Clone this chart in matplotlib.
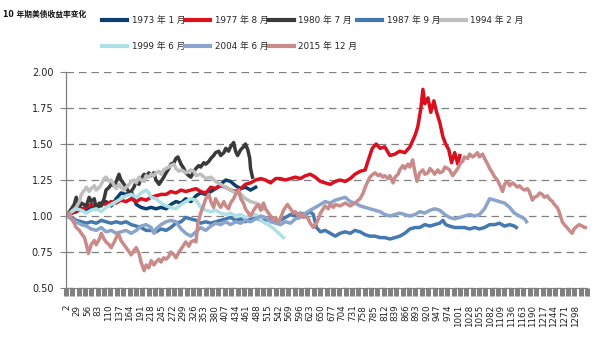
import numpy as np
import matplotlib
matplotlib.use("Agg")
import matplotlib.pyplot as plt

plt.rcParams['font.family'] = ['DejaVu Sans', 'Noto Sans CJK SC']

# ---------------- data (day index, ratio vs. start) ----------------
labels = ["1973 年 1 月", "1977 年 8 月", "1980 年 7 月", "1987 年 9 月",
          "1994 年 2 月", "1999 年 6 月", "2004 年 6 月", "2015 年 12 月"]
colors = ["#0b3f6e", "#d9101e", "#3a3a3a", "#4479b0",
          "#bfbfbf", "#ade0e4", "#8aa4cb", "#c98b8a"]

x1973 = [2, 15, 27, 40, 53, 65, 78, 91, 103, 116, 129, 141, 154, 167, 180, 192, 205, 218, 230, 243, 256,
         268, 281, 294, 306, 319, 332, 344, 357, 370, 382, 395, 408, 420, 433, 446, 458, 471, 484]
y1973 = [1.00, 1.02, 1.03, 1.05, 1.04, 1.06, 1.05, 1.08, 1.10, 1.07, 1.12, 1.16, 1.15, 1.17, 1.08, 1.06,
         1.05, 1.06, 1.05, 1.06, 1.05, 1.08, 1.10, 1.09, 1.12, 1.10, 1.14, 1.16, 1.15, 1.17, 1.19, 1.22,
         1.25, 1.24, 1.21, 1.19, 1.20, 1.18, 1.20]

x1977 = [2, 15, 27, 40, 53, 65, 78, 91, 103, 116, 129, 141, 154, 167, 180, 192, 205, 218, 230, 243, 256,
         268, 281, 294, 306, 319, 332, 344, 357, 370, 382, 395, 408, 420, 433, 446, 458, 471, 484, 497,
         509, 522, 535, 547, 560, 573, 585, 598, 611, 623, 636, 649, 661, 674, 687, 699, 712, 725, 737,
         750, 763, 770, 781, 791, 801, 813, 826, 839, 851, 864, 877, 890, 897, 905, 910, 915, 923, 930,
         938, 945, 953, 961, 968, 976, 983, 991, 999, 1004]
y1977 = [1.00, 1.02, 1.03, 1.05, 1.06, 1.08, 1.07, 1.09, 1.08, 1.10, 1.09, 1.11, 1.10, 1.12, 1.10, 1.12,
         1.11, 1.13, 1.14, 1.15, 1.15, 1.17, 1.16, 1.18, 1.17, 1.18, 1.19, 1.17, 1.16, 1.20, 1.19, 1.21,
         1.20, 1.18, 1.17, 1.19, 1.22, 1.23, 1.25, 1.26, 1.25, 1.23, 1.26, 1.26, 1.25, 1.26, 1.27, 1.26,
         1.28, 1.29, 1.27, 1.24, 1.23, 1.22, 1.24, 1.25, 1.24, 1.26, 1.29, 1.31, 1.32, 1.38, 1.47, 1.50,
         1.47, 1.48, 1.42, 1.43, 1.45, 1.44, 1.48, 1.56, 1.62, 1.75, 1.88, 1.78, 1.82, 1.72, 1.80, 1.72,
         1.65, 1.55, 1.50, 1.46, 1.37, 1.44, 1.36, 1.42]

x1980 = [2, 15, 22, 27, 35, 40, 53, 60, 65, 73, 78, 86, 91, 98, 103, 111, 116, 124, 129, 136, 141, 149,
         154, 162, 167, 174, 180, 187, 192, 200, 205, 212, 218, 225, 230, 238, 243, 250, 256, 263, 268,
         276, 281, 286, 294, 301, 306, 314, 319, 327, 332, 339, 344, 352, 357, 365, 370, 377, 382, 390,
         395, 403, 408, 415, 420, 428, 433, 438, 446, 453, 458, 464, 469, 471, 476]
y1980 = [1.00, 1.05, 1.08, 1.13, 1.06, 1.09, 1.07, 1.13, 1.10, 1.12, 1.05, 1.09, 1.07, 1.12, 1.18, 1.20,
         1.22, 1.21, 1.24, 1.29, 1.25, 1.22, 1.20, 1.16, 1.17, 1.20, 1.24, 1.22, 1.26, 1.29, 1.27, 1.30,
         1.28, 1.30, 1.25, 1.22, 1.24, 1.27, 1.30, 1.33, 1.36, 1.37, 1.40, 1.41, 1.36, 1.33, 1.30, 1.28,
         1.27, 1.31, 1.33, 1.35, 1.34, 1.37, 1.36, 1.38, 1.40, 1.42, 1.44, 1.45, 1.42, 1.44, 1.47, 1.45,
         1.48, 1.51, 1.45, 1.42, 1.46, 1.48, 1.50, 1.46, 1.40, 1.33, 1.27]

x1987 = [2, 15, 27, 40, 53, 65, 78, 91, 103, 116, 129, 141, 154, 167, 180, 192, 205, 218, 230, 243, 256,
         268, 281, 294, 306, 319, 332, 344, 357, 370, 382, 395, 408, 420, 433, 446, 458, 471, 484, 497,
         509, 522, 535, 547, 560, 573, 585, 598, 611, 623, 631, 639, 649, 661, 674, 687, 699, 712, 725,
         737, 750, 763, 775, 788, 801, 813, 826, 839, 851, 864, 877, 890, 902, 915, 928, 940, 953, 961,
         968, 978, 991, 1004, 1016, 1029, 1042, 1054, 1067, 1080, 1093, 1105, 1118, 1131, 1143, 1148]
y1987 = [1.00, 0.99, 0.97, 0.96, 0.95, 0.96, 0.95, 0.97, 0.96, 0.95, 0.96, 0.95, 0.96, 0.94, 0.93, 0.92,
         0.90, 0.90, 0.89, 0.91, 0.90, 0.92, 0.95, 0.96, 0.99, 0.98, 0.97, 0.95, 0.96, 0.95, 0.96, 0.97,
         0.98, 0.99, 0.97, 0.98, 0.96, 0.98, 0.99, 0.97, 0.97, 0.98, 0.96, 0.97, 0.99, 1.01, 1.00, 1.02,
         1.01, 1.03, 1.01, 0.92, 0.89, 0.90, 0.88, 0.86, 0.88, 0.89, 0.88, 0.90, 0.89, 0.87, 0.86, 0.86,
         0.85, 0.85, 0.84, 0.85, 0.86, 0.88, 0.91, 0.92, 0.92, 0.94, 0.93, 0.94, 0.95, 0.97, 0.94, 0.93,
         0.92, 0.92, 0.92, 0.91, 0.92, 0.91, 0.92, 0.94, 0.94, 0.95, 0.93, 0.94, 0.93, 0.92]

x1994 = [2, 15, 27, 35, 40, 48, 53, 60, 65, 73, 78, 86, 91, 98, 103, 111, 116, 124, 129, 136, 141, 149,
         154, 162, 167, 174, 180, 187, 192, 200, 205, 212, 218, 225, 230, 238, 243, 250, 256, 263, 268,
         276, 281, 289, 294, 301, 306, 314, 319, 327, 332, 344, 357, 370, 382, 395, 408, 420, 433, 446,
         458, 471, 484, 497, 504]
y1994 = [1.00, 1.03, 1.06, 1.10, 1.15, 1.18, 1.20, 1.17, 1.19, 1.21, 1.18, 1.20, 1.22, 1.26, 1.27, 1.24,
         1.25, 1.21, 1.19, 1.22, 1.20, 1.18, 1.20, 1.22, 1.24, 1.25, 1.23, 1.27, 1.25, 1.24, 1.28, 1.27,
         1.29, 1.28, 1.30, 1.31, 1.29, 1.32, 1.33, 1.34, 1.35, 1.36, 1.33, 1.31, 1.32, 1.31, 1.30, 1.31,
         1.32, 1.31, 1.28, 1.29, 1.26, 1.27, 1.24, 1.22, 1.20, 1.18, 1.16, 1.15, 1.12, 1.10, 1.09, 1.07,
         1.05]

x1999 = [2, 15, 27, 40, 53, 65, 78, 91, 103, 116, 129, 141, 154, 167, 180, 192, 205, 212, 218, 230, 243,
         256, 268, 281, 294, 306, 319, 332, 344, 357, 370, 382, 395, 408, 420, 433, 446, 458, 471, 484,
         497, 509, 522, 535, 547, 555]
y1999 = [1.00, 1.03, 1.05, 1.04, 1.02, 1.04, 1.05, 1.03, 1.06, 1.08, 1.10, 1.12, 1.14, 1.15, 1.13, 1.16,
         1.18, 1.16, 1.13, 1.12, 1.09, 1.07, 1.06, 1.05, 1.08, 1.10, 1.12, 1.11, 1.06, 1.04, 1.03, 1.04,
         1.02, 1.01, 1.02, 1.00, 1.01, 0.99, 1.00, 1.01, 0.97, 0.95, 0.93, 0.90, 0.87, 0.85]

x2004 = [2, 15, 27, 40, 53, 65, 78, 91, 103, 116, 129, 141, 154, 167, 180, 192, 205, 218, 225, 230, 243,
         256, 268, 281, 294, 306, 319, 332, 344, 357, 370, 382, 395, 408, 420, 433, 446, 458, 471, 484,
         497, 509, 522, 535, 547, 560, 573, 585, 598, 611, 623, 636, 649, 661, 674, 687, 699, 712, 725,
         737, 750, 763, 775, 788, 801, 813, 826, 839, 851, 864, 877, 890, 902, 915, 928, 940, 953, 966,
         978, 991, 1004, 1016, 1029, 1042, 1054, 1067, 1080, 1093, 1105, 1118, 1131, 1143, 1156, 1169,
         1174]
y2004 = [1.00, 0.98, 0.96, 0.94, 0.93, 0.91, 0.90, 0.92, 0.89, 0.90, 0.88, 0.89, 0.90, 0.88, 0.90, 0.93,
         0.94, 0.92, 0.88, 0.91, 0.94, 0.96, 0.97, 0.96, 0.91, 0.88, 0.86, 0.89, 0.92, 0.90, 0.93, 0.95,
         0.94, 0.96, 0.94, 0.96, 0.95, 0.97, 0.96, 0.98, 1.00, 0.99, 0.96, 0.95, 0.94, 0.96, 0.95, 0.98,
         0.99, 1.02, 1.04, 1.06, 1.08, 1.10, 1.09, 1.11, 1.12, 1.13, 1.10, 1.09, 1.07, 1.06, 1.05, 1.04,
         1.03, 1.01, 1.00, 1.01, 1.02, 1.01, 1.00, 1.01, 1.03, 1.02, 1.04, 1.05, 1.04, 1.01, 0.99, 0.98,
         0.99, 1.00, 1.01, 1.00, 1.01, 1.05, 1.12, 1.11, 1.10, 1.09, 1.06, 1.02, 1.00, 0.98, 0.96]

x2015 = [2, 10, 15, 22, 27, 35, 40, 48, 53, 58, 65, 73, 78, 86, 91, 98, 103, 111, 116, 124, 129, 134,
         141, 149, 154, 162, 167, 174, 180, 187, 192, 200, 205, 212, 218, 225, 230, 238, 243, 250, 256,
         263, 268, 276, 281, 289, 294, 301, 306, 314, 319, 327, 332, 337, 344, 352, 357, 365, 370, 377,
         382, 390, 395, 403, 408, 415, 420, 428, 433, 441, 446, 453, 458, 466, 471, 479, 484, 491, 497,
         504, 509, 517, 522, 529, 535, 542, 547, 555, 560, 565, 573, 580, 585, 593, 598, 606, 611, 618,
         623, 631, 636, 644, 649, 656, 661, 669, 674, 682, 687, 699, 712, 725, 737, 750, 758, 763, 770,
         775, 783, 788, 796, 801, 808, 813, 821, 826, 834, 839, 847, 851, 859, 864, 872, 877, 884, 890,
         895, 902, 910, 915, 923, 928, 935, 940, 948, 953, 961, 966, 973, 978, 986, 991, 999, 1004, 1011,
         1016, 1024, 1029, 1037, 1042, 1049, 1054, 1062, 1067, 1075, 1080, 1087, 1093, 1100, 1105, 1113,
         1118, 1125, 1131, 1138, 1143, 1151, 1156, 1163, 1169, 1176, 1181, 1189, 1194, 1202, 1207, 1214,
         1219, 1227, 1232, 1240, 1245, 1252, 1257, 1265, 1270, 1277, 1283, 1290, 1295, 1303, 1308, 1316,
         1321, 1328]
y2015 = [1.00, 1.02, 0.98, 0.95, 0.92, 0.90, 0.88, 0.85, 0.80, 0.74, 0.80, 0.83, 0.80, 0.84, 0.88, 0.84,
         0.82, 0.80, 0.78, 0.82, 0.85, 0.88, 0.83, 0.80, 0.78, 0.75, 0.73, 0.76, 0.78, 0.74, 0.68, 0.62,
         0.66, 0.64, 0.69, 0.66, 0.68, 0.70, 0.68, 0.71, 0.70, 0.72, 0.75, 0.73, 0.71, 0.75, 0.77, 0.80,
         0.82, 0.79, 0.82, 0.83, 0.82, 0.95, 1.02, 1.08, 1.12, 1.15, 1.10, 1.06, 1.12, 1.08, 1.06, 1.10,
         1.07, 1.05, 1.09, 1.12, 1.15, 1.18, 1.12, 1.09, 1.05, 1.02, 1.00, 1.04, 1.06, 1.08, 1.04, 1.09,
         1.05, 1.02, 1.00, 0.97, 0.99, 0.96, 0.98, 1.04, 1.06, 1.08, 1.05, 1.02, 1.03, 1.00, 1.02, 0.99,
         1.00, 0.98, 0.95, 0.92, 0.94, 0.98, 1.02, 1.05, 1.07, 1.05, 1.08, 1.06, 1.08, 1.07, 1.09, 1.07,
         1.09, 1.12, 1.16, 1.20, 1.24, 1.27, 1.29, 1.30, 1.28, 1.29, 1.27, 1.28, 1.26, 1.28, 1.23, 1.27,
         1.29, 1.32, 1.35, 1.33, 1.36, 1.34, 1.39, 1.30, 1.24, 1.30, 1.32, 1.29, 1.30, 1.33, 1.31, 1.29,
         1.32, 1.30, 1.31, 1.34, 1.33, 1.32, 1.28, 1.30, 1.33, 1.36, 1.38, 1.41, 1.40, 1.43, 1.41, 1.42,
         1.44, 1.41, 1.43, 1.40, 1.36, 1.33, 1.30, 1.27, 1.25, 1.22, 1.17, 1.22, 1.24, 1.21, 1.23, 1.22,
         1.20, 1.21, 1.19, 1.18, 1.19, 1.17, 1.11, 1.13, 1.14, 1.16, 1.15, 1.13, 1.14, 1.12, 1.10, 1.08,
         1.06, 1.03, 0.96, 0.94, 0.92, 0.90, 0.88, 0.91, 0.93, 0.94, 0.93, 0.92, 0.92]

xs = [x1973, x1977, x1980, x1987, x1994, x1999, x2004, x2015]
ys = [y1973, y1977, y1980, y1987, y1994, y1999, y2004, y2015]

xtick_vals = list(range(2, 1299, 27))
ytick_vals = [0.50, 0.75, 1.00, 1.25, 1.50, 1.75, 2.00]

# ---------------- figure ----------------
W, H = 605, 340
fig = plt.figure(figsize=(W / 100, H / 100), dpi=100)
ax = fig.add_axes([66 / W, 1 - 288 / H, (587 - 66) / W, 216 / H])

handles = []
for xv, yv, c, lab in zip(xs, ys, colors, labels):
    h, = ax.plot(xv, yv, color=c, lw=2.5, label=lab)
    handles.append(h)

ax.set_xlim(1, 1328)
ax.set_ylim(0.5, 2.0)

ax.set_yticks(ytick_vals)
ax.set_yticklabels([f"{v:.2f}" for v in ytick_vals], fontsize=7, color="#222222")
ax.yaxis.grid(True, linestyle=(0, (6, 4)), color="#808080", lw=0.9)
ax.set_axisbelow(True)
ax.tick_params(axis='y', length=4, color="#808080", width=0.8, pad=5)

ax.set_xticks(xtick_vals)
ax.set_xticklabels([str(v) for v in xtick_vals], rotation=90, fontsize=6.3, color="#222222")
ax.set_xticks(np.linspace(1, 1328, 83), minor=True)
ax.tick_params(axis='x', which='major', length=0, pad=12)
ax.tick_params(axis='x', which='minor', length=6, width=3.6, color="#808080")

for s in ['top', 'right']:
    ax.spines[s].set_visible(False)
ax.spines['left'].set_color("#808080")
ax.spines['bottom'].set_color("#808080")
ax.spines['left'].set_linewidth(0.9)

fig.text(3 / W, 1 - 14 / H, "10 年期美债收益率变化", fontsize=5.6, fontweight='bold',
         va='center', ha='left', color="#111111")

# legend filled column-wise: reorder so rows read 1973..1994 / 1999..2015
order = [0, 5, 1, 6, 2, 7, 3, 4]
leg = fig.legend([handles[i] for i in order], [labels[i] for i in order],
                 loc='upper left', bbox_to_anchor=(102 / W, 1 - 16 / H), ncol=5, frameon=False,
                 fontsize=6.3, handlelength=2.85, handletextpad=0.55, columnspacing=0.0,
                 labelspacing=1.9, borderpad=0, borderaxespad=0)
for line in leg.get_lines():
    line.set_linewidth(3.0)
for t in leg.get_texts():
    t.set_color("#222222")

fig.savefig("out.png", dpi=100)
